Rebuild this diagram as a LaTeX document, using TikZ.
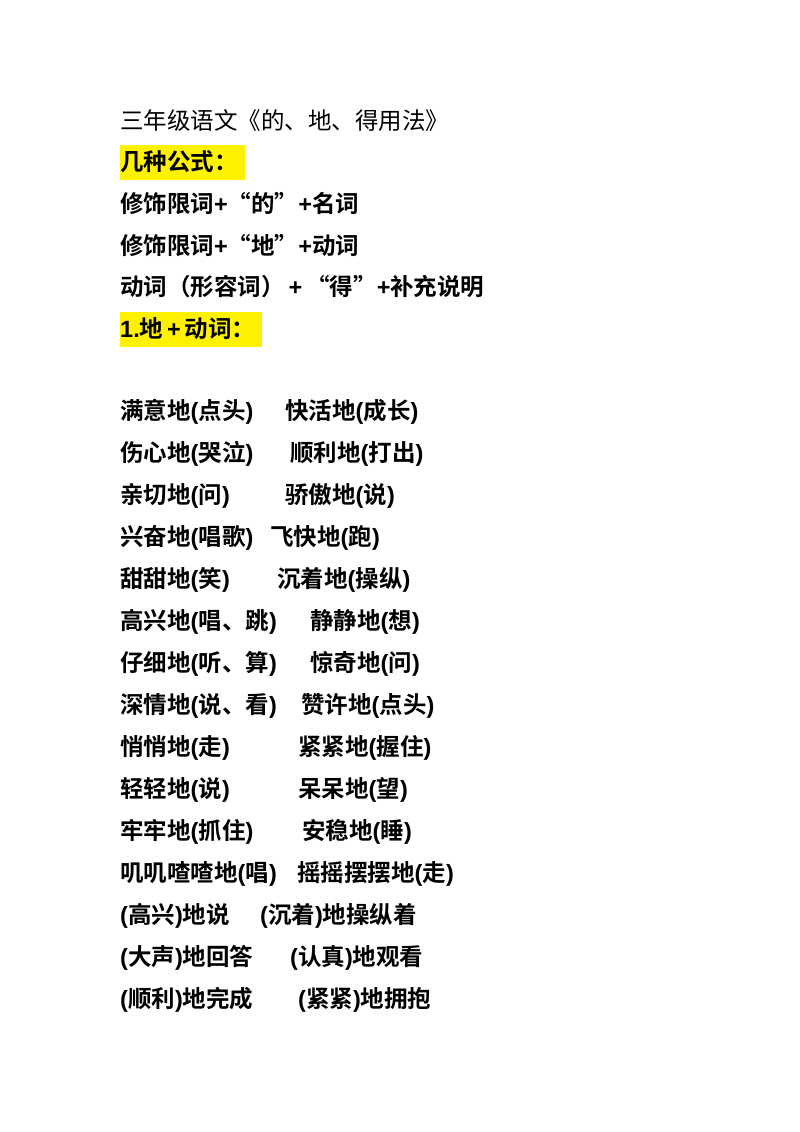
\documentclass[tikz,border=0pt]{standalone}
\usepackage{fontspec}
\newfontfamily\cjk{Noto Sans CJK SC}
\newfontfamily\cjkb{Noto Sans CJK SC Bold}
\newfontfamily\latb{Liberation Sans Bold}
\newcommand\lp{{\latb(}}
\newcommand\rp{{\latb)}}
\newcommand\pl{{\latb+}}
\begin{document}
\begin{tikzpicture}[x=1pt,y=-1pt,
  t/.style={anchor=west,inner sep=0pt,font=\cjkb\fontsize{23.5}{23.5}\selectfont},
  hl/.style={fill=yellow,draw=none}]
\useasboundingbox[fill=white] (0,0) rectangle (800,1132);
\fill[hl] (120,145) rectangle (245,180);
\fill[hl] (120,312) rectangle (262,347);
\node[anchor=west,inner sep=0pt,font=\cjk\fontsize{23.5}{23.5}\selectfont] (title) at (120,121) {三年级语文《的、地、得用法》};
\node[t] (h1) at (120,162) {几种公式：};
\node[t] (f1) at (120,203) {修饰限词\pl“的”\pl 名词};
\node[t] (f2) at (120,245) {修饰限词\pl“地”\pl 动词};
\node[t] (f3) at (120,287) {动词（形容词）\,\pl\,“得”\pl 补充说明};
\node[t] (h2) at (120,329) {{\latb 1.}地\,\pl\,动词：};
\foreach \i/\a/\x/\b in {
 0/满意地\lp 点头\rp/285/快活地\lp 成长\rp,
 1/伤心地\lp 哭泣\rp/290/顺利地\lp 打出\rp,
 2/亲切地\lp 问\rp/285/骄傲地\lp 说\rp,
 3/兴奋地\lp 唱歌\rp/270/飞快地\lp 跑\rp,
 4/甜甜地\lp 笑\rp/277/沉着地\lp 操纵\rp,
 5/高兴地\lp 唱、跳\rp/310/静静地\lp 想\rp,
 6/仔细地\lp 听、算\rp/310/惊奇地\lp 问\rp,
 7/深情地\lp 说、看\rp/301/赞许地\lp 点头\rp,
 8/悄悄地\lp 走\rp/298/紧紧地\lp 握住\rp,
 9/轻轻地\lp 说\rp/298/呆呆地\lp 望\rp,
 10/牢牢地\lp 抓住\rp/302/安稳地\lp 睡\rp,
 11/叽叽喳喳地\lp 唱\rp/297/摇摇摆摆地\lp 走\rp,
 12/\lp 高兴\rp 地说/260/\lp 沉着\rp 地操纵着,
 13/\lp 大声\rp 地回答/290/\lp 认真\rp 地观看,
 14/\lp 顺利\rp 地完成/298/\lp 紧紧\rp 地拥抱}
{
 \node[t] (l\i) at (120,{412+42*\i}) {\a};
 \node[t] (r\i) at (\x,{412+42*\i}) {\b};
}
\end{tikzpicture}
\end{document}
